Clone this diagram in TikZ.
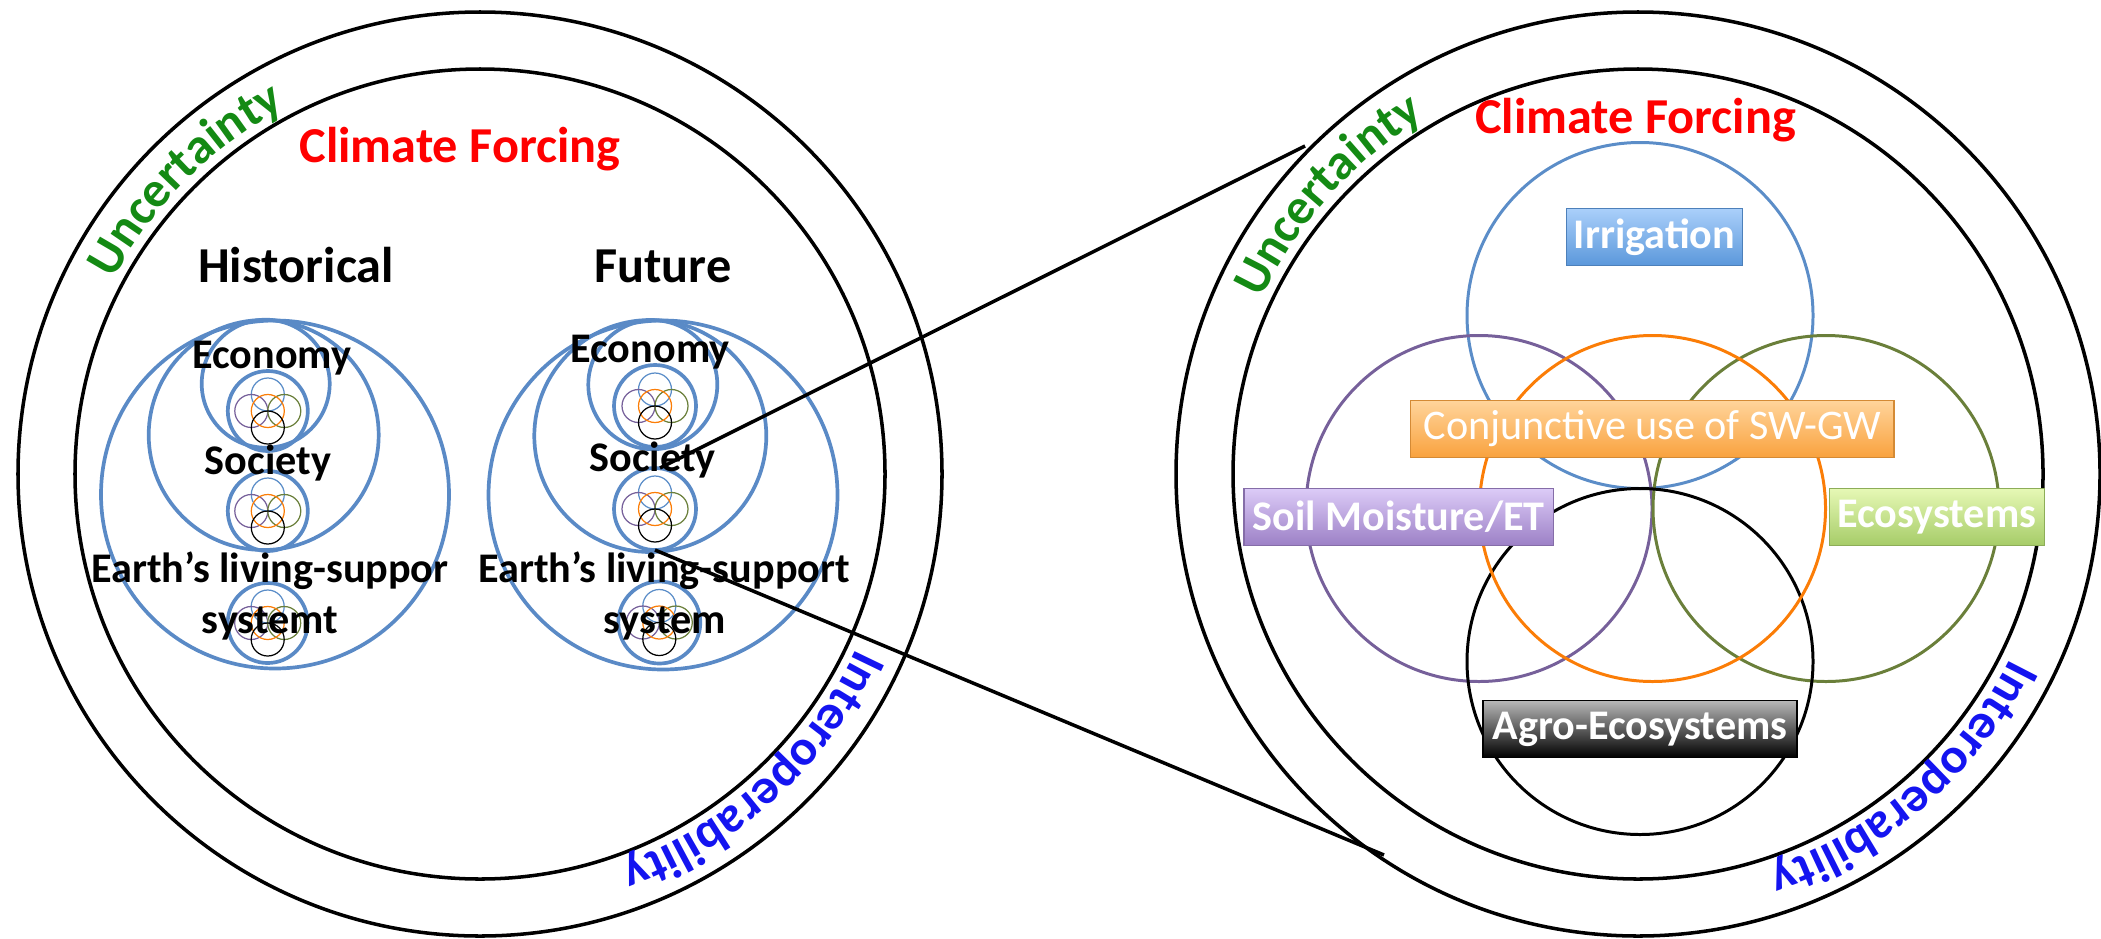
\documentclass[tikz,border=0pt]{standalone}
\usepackage{fontspec}
\setmainfont{Carlito}
\usetikzlibrary{decorations.text}

\definecolor{cfred}{HTML}{FF0000}
\definecolor{uncgreen}{HTML}{148A14}
\definecolor{intblue}{HTML}{1414F0}
\definecolor{nestblue}{HTML}{5A8AC6}
\definecolor{vblue}{HTML}{5B8DC8}
\definecolor{vpurple}{HTML}{76609A}
\definecolor{vorange}{HTML}{FB7D07}
\definecolor{vgreen}{HTML}{6A7F3A}
\definecolor{irrtop}{HTML}{AAD0FA}
\definecolor{irrbot}{HTML}{5B97DB}
\definecolor{contop}{HTML}{FFD49B}
\definecolor{conbot}{HTML}{F9A23E}
\definecolor{soiltop}{HTML}{DCCBF7}
\definecolor{soilbot}{HTML}{9C80C6}
\definecolor{ecotop}{HTML}{E6F8B5}
\definecolor{ecobot}{HTML}{A6CC68}
\definecolor{agrotop}{HTML}{B8B8B8}
\definecolor{agrobot}{HTML}{000000}

\newcommand{\headfont}{\fontsize{14.3}{17}\selectfont\bfseries}
\newcommand{\labfont}{\fontsize{12}{14}\selectfont\bfseries}
\newcommand{\plainfont}{\fontsize{12}{14}\selectfont}

% tiny five-circle venn inside the small blue rings
\newcommand{\minivenn}[2]{%
  \begin{scope}[shift={(#1,#2)}, line width=0.35pt]
    \draw[vblue] (0,16.5) circle (16.5);
    \draw[vpurple] (-16.5,0) circle (16.5);
    \draw[vgreen] (16.5,0) circle (16.5);
    \draw[vorange] (0,0) circle (16.5);
    \draw[black] (0,-16.5) circle (16.5);
  \end{scope}}

\begin{document}
\begin{tikzpicture}[x=0.01cm, y=0.01cm,
    ring/.style={line width=1pt},
    nest/.style={draw=nestblue, line width=1.05pt},
    petal/.style={line width=0.85pt},
    head/.style={font=\headfont, anchor=base},
    lab/.style={font=\labfont, anchor=base},
    tagbox/.style n args={2}{shade, top color=#1, bottom color=#2, draw=#2!85!black,
      line width=0.4pt, text=white, inner sep=0pt, minimum height=0.57cm, font=\labfont}]

\useasboundingbox (0,0) rectangle (2101,938);

% ---- left: historical / future ----
\draw[ring] (480,464) circle (462);
\draw[ring] (480,464) circle (405);
\node[head, text=cfred] (cfL) at (460,776) {Climate Forcing};
\path[shift={(480,464)}, decorate, decoration={text along path, text align=center,
  text={|\headfont\color{uncgreen}|Uncertainty}}] (170:415) arc (170:100:415);
\path[shift={(480,464)}, decorate, decoration={text along path, text align=center,
  text={|\headfont\color{intblue}|Interoperability}}] (-12.5:415) arc (-12.5:-82.5:415);

\node[head] (histT) at (296,656) {Historical};
\node[head] (futT) at (663,656) {Future};

% historical stack
\draw[nest] (275,443.5) circle (174);
\draw[nest] (263.7,503) circle (115);
\draw[nest] (265.7,554.3) circle (64);
\foreach \x/\y in {267.8/527, 267.8/427, 267.7/315} {
  \draw[nest] (\x,\y) circle (40);
  \minivenn{\x}{\y}
}
\node[lab] (ecoL) at (271.7,570) {Economy};
\node[lab] (socL) at (268,464) {Society};
\node[lab] (earthL) at (270,356) {Earth’s living-suppor};
\node[lab] (sysL) at (270,305) {systemt};

% future stack
\draw[nest] (663,443) circle (174.5);
\draw[nest] (650.3,502) circle (116);
\draw[nest] (652.8,553.3) circle (64.5);
\foreach \x/\y in {655/532, 655/429, 659.3/315.5} {
  \draw[nest] (\x,\y) circle (41);
  \minivenn{\x}{\y}
}
\node[lab] (ecoR) at (650,576) {Economy};
\node[lab] (socR) at (652.5,467) {Society};
\node[lab] (earthR) at (664,356) {Earth’s living-support};
\node[lab] (sysR) at (664.7,305) {system};

% ---- right: zoomed venn ----
\draw[ring] (1638,464) circle (462);
\draw[ring] (1638,464) circle (405);
\node[head, text=cfred] (cfR) at (1635.5,805) {Climate Forcing};
\path[shift={(1638,464)}, decorate, decoration={text along path, text align=center,
  text={|\headfont\color{uncgreen}|Uncertainty}}] (173:415) arc (173:103:415);
\path[shift={(1638,464)}, decorate, decoration={text along path, text align=center,
  text={|\headfont\color{intblue}|Interoperability}}] (-14:415) arc (-14:-84:415);

\foreach \x/\y/\c in {1640/622.5/vblue, 1479/429.5/vpurple, 1826/429.5/vgreen,
    1640/276.5/black, 1652.5/429.5/vorange}
  \draw[petal, \c] (\x,\y) circle (173);

\node[tagbox={irrtop}{irrbot}, minimum width=1.76cm] (irr) at (1654.5,701) {Irrigation};
\node[tagbox={contop}{conbot}, minimum width=4.83cm, font=\plainfont] (conj) at (1652.4,509) {Conjunctive use of SW-GW};
\node[tagbox={soiltop}{soilbot}, minimum width=3.09cm] (soil) at (1398.7,421) {Soil Moisture/ET};
\node[tagbox={ecotop}{ecobot}, minimum width=2.15cm] (eco) at (1936.8,421) {Ecosystems};
\node[tagbox={agrotop}{agrobot}, minimum width=3.135cm] (agro) at (1640,209) {Agro-Ecosystems};

% zoom lines
\coordinate (linkA) at (660,470);
\coordinate (linkB) at (655,388);
\coordinate (zoomA) at (1305,792);
\coordinate (zoomB) at (1384,83);
\draw[ring] (linkA) -- (zoomA);
\draw[ring] (linkB) -- (zoomB);
\end{tikzpicture}
\end{document}
